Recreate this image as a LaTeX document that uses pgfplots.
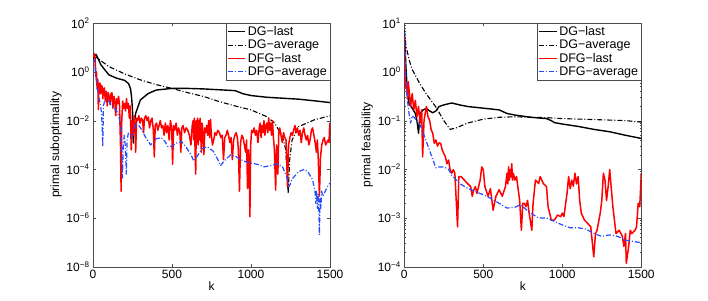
\documentclass[border=0pt]{standalone}
\usepackage{fontspec}
\setmainfont{Liberation Sans}
\usepackage{pgfplots}
\pgfplotsset{compat=1.18}
\definecolor{mblue}{rgb}{0.15,0.3,1}
\pgfplotsset{
  mystyle/.style={
    scale only axis, width=237pt, height=243.5pt,
    xmin=0, xmax=1500, xtick={0,500,1000,1500},
    tick align=inside,
    major tick length=3pt, minor tick length=1.8pt,
    axis line style={black!70}, tick style={black!70},
    every tick label/.append style={font=\fontsize{12}{14}\selectfont},
    label style={font=\fontsize{12}{14}\selectfont},
    /pgf/number format/assume math mode=true,
    /pgf/number format/set thousands separator={},
    xlabel={k},
    xlabel style={yshift=4pt},
    ylabel style={yshift=-2pt},
    legend style={at={(1,1)}, anchor=north east, draw=black!70,
      font=\fontsize{12.5}{13}\selectfont, inner sep=1pt, row sep=-1pt,
      cells={anchor=west}},
    legend cell align=left,
  },
  dglast/.style={black, line width=1.4pt, line join=round},
  dgavg/.style={black, line width=1.1pt, line join=round, dash pattern=on 5pt off 2pt on 1pt off 2pt},
  dfglast/.style={red, line width=1.5pt, line join=round},
  dfgavg/.style={mblue, line width=1.2pt, line join=round, dash pattern=on 5pt off 2pt on 1pt off 2pt},
}
\begin{document}
\begin{tikzpicture}
\useasboundingbox (0,0) rectangle (708pt,300pt);
% ---------------- left axis ----------------
\begin{axis}[ymode=log, mystyle, at={(93pt,33.3pt)}, anchor=south west,
  ymin=1e-8, ymax=1e2,
  ytick={1e-8,1e-6,1e-4,1e-2,1,1e2},
  yticklabels={10\textsuperscript{−8},10\textsuperscript{−6},10\textsuperscript{−4},10\textsuperscript{−2},10\textsuperscript{0},10\textsuperscript{2}},
  yminorticks=false,
  ylabel={primal suboptimality}]
\addplot[dglast] coordinates {
(0,4.0)(20,5.2)(50,1.95)(100,0.76)(150,0.55)(200,0.45)(225,0.33)(238,0.2)(245,0.079)(250,0.0275)(255,0.0012)(260,0.0063)(270,0.02)(300,0.071)(350,0.13)(400,0.18)(500,0.21)(600,0.21)(700,0.2)(900,0.17)(950,0.126)(1000,0.107)(1100,0.091)(1200,0.083)(1300,0.076)(1400,0.065)(1500,0.055)};
\addlegendentry{DG−last}
\addplot[dgavg] coordinates {
(0,3.6)(20,4.0)(100,1.66)(200,0.83)(300,0.47)(400,0.30)(500,0.21)(600,0.14)(700,0.098)(800,0.06)(900,0.04)(1000,0.0275)(1100,0.0145)(1150,0.0079)(1200,0.0022)(1220,0.00063)(1235,0.00001)(1245,0.00025)(1260,0.0016)(1300,0.0056)(1400,0.0107)(1500,0.0158)};
\addlegendentry{DG−average}
\addplot[dfglast] coordinates {
(0,4.0)(8,5.6)(14,3.2)(18,0.63)(22,1.0)(26,0.2)(30,0.5)(34,0.028)(38,0.32)(44,0.35)(48,0.126)(52,0.28)(58,0.25)(62,0.079)(66,0.2)(72,0.22)(78,0.063)(84,0.16)(90,0.04)(96,0.14)(102,0.1)(108,0.045)(114,0.126)(120,0.14)(126,0.032)(132,0.1)(138,0.063)(144,0.016)(150,0.079)(156,0.05)(162,0.1)(168,0.04)(174,1e-3)(178,1.26e-5)(182,0.01)(188,0.063)(194,0.032)(200,0.05)(206,0.025)(212,0.079)(218,0.032)(224,0.05)(230,0.0126)(236,0.04)(242,6.3e-4)(248,0.01)(254,2.5e-3)(260,0.016)(266,6.3e-3)(270,5e-4)(276,0.0126)(282,0.01)(290,0.016)(298,7.9e-3)(306,0.0126)(314,0.01)(320,3.2e-3)(326,0.0126)(334,0.016)(342,0.01)(350,0.014)(358,5e-3)(366,0.01)(374,0.0126)(382,4e-3)(388,3.2e-4)(394,6.3e-3)(402,7.9e-3)(410,4e-3)(418,6.3e-3)(426,0.01)(434,5e-3)(442,6.3e-3)(450,2.5e-3)(458,7.9e-3)(466,3.2e-3)(474,6.3e-3)(482,1.6e-3)(490,0.01)(498,5e-3)(504,1.6e-4)(510,6.3e-3)(518,4e-3)(526,7.9e-3)(534,2.5e-3)(542,5e-3)(550,3.2e-3)(556,5e-4)(562,5e-3)(570,6.3e-3)(580,3.2e-3)(590,5e-3)(600,4e-3)(610,2.5e-3)(620,1e-3)(628,6.3e-3)(634,0.01)(638,1.6e-3)(642,0.0126)(646,6.3e-4)(650,6.3e-5)(654,0.01)(658,1.26e-3)(662,0.0126)(666,1e-3)(670,0.01)(674,1.6e-3)(678,0.0126)(682,2.5e-3)(686,5e-4)(690,7.9e-3)(696,4e-3)(702,4e-4)(708,5e-3)(714,3.2e-3)(720,6.3e-3)(726,2.5e-3)(732,0.01)(738,2e-3)(744,0.0112)(748,3.2e-3)(756,1e-3)(764,1.6e-3)(772,3.2e-3)(780,2.5e-3)(790,4e-3)(800,3.2e-3)(810,2e-3)(818,2.5e-3)(826,2.5e-4)(834,2e-3)(842,2.5e-3)(850,4e-3)(858,2.5e-3)(866,1.26e-3)(874,2e-3)(882,2.5e-4)(890,1.6e-3)(898,2.5e-3)(906,3.2e-3)(914,2e-3)(920,6.3e-4)(927,1.26e-5)(934,1.26e-3)(942,2.5e-3)(950,2e-3)(958,1e-3)(966,5e-4)(972,1.6e-3)(978,1.6e-5)(984,6.3e-4)(988,2.5e-4)(993,1.12e-6)(998,1e-3)(1004,4e-3)(1012,3.2e-3)(1020,5e-3)(1028,2.5e-3)(1036,4e-3)(1044,1.26e-3)(1052,5e-3)(1058,7.9e-3)(1064,2e-3)(1070,6.3e-3)(1076,3.2e-3)(1082,0.01)(1088,2.5e-3)(1094,6.3e-3)(1100,7.9e-3)(1106,3.2e-3)(1112,0.0126)(1118,4e-3)(1124,7.9e-3)(1130,2.5e-3)(1136,0.01)(1142,2e-3)(1148,6.3e-4)(1156,1.4e-5)(1162,1e-3)(1170,6.3e-5)(1176,3.2e-3)(1182,5e-3)(1190,2.5e-3)(1198,1.26e-3)(1206,3.2e-3)(1214,2e-3)(1222,1.6e-3)(1231,2e-5)(1238,1e-3)(1246,2e-3)(1254,3.2e-3)(1262,2.5e-3)(1270,4e-3)(1278,6.3e-3)(1286,3.2e-3)(1294,5e-3)(1302,2.5e-3)(1310,4e-3)(1318,1.26e-3)(1326,3.2e-3)(1334,5e-3)(1342,2.5e-3)(1350,1.6e-3)(1358,2.5e-3)(1366,1e-3)(1374,1.6e-3)(1382,4e-3)(1390,5e-3)(1398,2.5e-3)(1406,1.26e-3)(1414,5e-4)(1420,1.6e-3)(1426,2.5e-4)(1433,7.9e-6)(1440,3.2e-4)(1448,1e-3)(1456,1.6e-3)(1464,2e-3)(1472,1e-3)(1480,1.26e-3)(1488,1.6e-3)(1494,1.26e-3)(1497,5e-3)(1500,7.9e-3)};
\addlegendentry{DFG−last}
\addplot[dfgavg] coordinates {
(0,2.8)(8,3.2)(14,1.26)(20,0.5)(28,0.2)(36,0.1)(46,0.05)(54,0.02)(58,5e-3)(62,8.5e-4)(66,0.04)(75,0.071)(90,0.071)(105,0.056)(120,0.04)(135,0.032)(150,0.025)(165,0.014)(176,5e-3)(182,6.3e-4)(186,4.3e-5)(192,1e-3)(198,2.5e-3)(204,1e-3)(211,6.3e-5)(216,1.6e-3)(224,3.2e-3)(235,2.8e-3)(245,2e-3)(255,4e-3)(270,7.9e-3)(290,6.3e-3)(310,4e-3)(330,2.2e-3)(350,1.4e-3)(365,1e-3)(380,1.26e-3)(400,1.8e-3)(430,2e-3)(455,1.4e-3)(475,8.5e-4)(500,8.9e-4)(530,1.2e-3)(560,1.4e-3)(590,7.9e-4)(620,4e-4)(638,2.2e-4)(660,3.5e-4)(690,7.1e-4)(723,8.5e-4)(760,5.6e-4)(790,2.5e-4)(807,1.4e-4)(830,2.2e-4)(871,3.9e-4)(900,3.5e-4)(935,2.5e-4)(970,2e-4)(1000,1.8e-4)(1040,1.6e-4)(1083,1.26e-4)(1120,1.4e-4)(1168,1.66e-4)(1200,1.26e-4)(1225,5e-5)(1242,1.95e-5)(1260,4e-5)(1300,7.9e-5)(1337,1e-4)(1360,7.9e-5)(1390,3.7e-5)(1405,1.26e-5)(1410,4e-6)(1415,1.26e-5)(1420,2.5e-6)(1425,1e-5)(1430,1.6e-6)(1433,2e-7)(1437,6.3e-6)(1442,2.5e-6)(1447,1.26e-5)(1455,7.9e-6)(1470,1.26e-5)(1485,2e-5)(1500,2.7e-5)};
\addlegendentry{DFG−average}
\end{axis}
% ---------------- right axis ----------------
\begin{axis}[ymode=log, mystyle, at={(404.3pt,33.3pt)}, anchor=south west,
  ymin=1e-4, ymax=10,
  ytick={1e-4,1e-3,1e-2,1e-1,1,10},
  yticklabels={10\textsuperscript{−4},10\textsuperscript{−3},10\textsuperscript{−2},10\textsuperscript{−1},10\textsuperscript{0},10\textsuperscript{1}},
  ylabel={primal feasibility}]
\addplot[dglast] coordinates {
(0,7.2)(5,3.2)(10,1.3)(20,0.36)(30,0.22)(40,0.2)(50,0.18)(60,0.158)(70,0.14)(80,0.1)(90,0.055)(100,0.14)(120,0.166)(140,0.178)(160,0.158)(180,0.145)(200,0.158)(220,0.195)(250,0.21)(300,0.23)(350,0.21)(400,0.195)(500,0.18)(600,0.166)(630,0.15)(650,0.14)(700,0.13)(800,0.117)(900,0.11)(930,0.1)(950,0.091)(1000,0.085)(1100,0.076)(1200,0.066)(1300,0.059)(1400,0.05)(1500,0.043)};
\addlegendentry{DG−last}
\addplot[dgavg] coordinates {
(0,7.1)(10,3.5)(20,2.5)(35,1.58)(50,1.12)(75,0.79)(100,0.56)(140,0.35)(200,0.19)(250,0.1)(290,0.066)(330,0.071)(400,0.089)(500,0.107)(600,0.117)(700,0.12)(800,0.117)(900,0.115)(1000,0.11)(1200,0.105)(1400,0.1)(1500,0.093)};
\addlegendentry{DG−average}
\addplot[dfglast] coordinates {
(0,5.4)(5,0.59)(10,0.46)(15,0.59)(20,0.28)(25,0.63)(30,0.43)(40,0.195)(50,0.36)(60,0.166)(70,0.26)(80,0.12)(90,0.195)(100,0.089)(110,0.166)(116,0.018)(125,0.102)(140,0.195)(150,0.12)(160,0.102)(170,0.065)(180,0.055)(190,0.034)(200,0.04)(210,0.03)(220,0.035)(230,0.034)(240,0.025)(250,0.021)(260,0.018)(270,0.013)(280,0.0155)(290,9.8e-3)(300,8.3e-3)(310,9.8e-3)(320,8.3e-3)(337,6.6e-4)(345,7.1e-3)(360,7.1e-3)(380,6e-3)(400,5.1e-3)(420,4.4e-3)(430,2.8e-3)(440,3.8e-3)(450,4.4e-3)(460,3.2e-3)(470,4.4e-3)(480,6e-3)(490,0.0112)(500,9.8e-3)(510,4.4e-3)(530,2.8e-3)(545,4e-3)(562,1.45e-3)(580,2.8e-3)(600,3.8e-3)(620,2.8e-3)(640,4.4e-3)(650,8.3e-3)(655,5e-3)(660,0.0112)(665,6e-3)(670,9.8e-3)(675,7e-3)(680,0.013)(685,6e-3)(690,8.3e-3)(700,6e-3)(710,7.1e-3)(730,2.3e-3)(741,5.6e-4)(750,2e-3)(760,2e-3)(770,1.7e-3)(780,2.3e-3)(790,1.26e-3)(807,5.6e-4)(815,2e-3)(830,6e-3)(850,5.1e-3)(860,7.1e-3)(880,5.1e-3)(900,4.4e-3)(910,1.7e-3)(920,1.26e-3)(930,9.1e-4)(950,9.1e-4)(970,1.15e-3)(990,1.07e-3)(1000,1.26e-3)(1010,1.07e-3)(1030,3.2e-3)(1040,7.1e-3)(1050,4e-3)(1060,6e-3)(1070,4.5e-3)(1080,8.3e-3)(1090,5e-3)(1100,7.1e-3)(1110,2.3e-3)(1120,1.26e-3)(1140,9.1e-4)(1160,7.8e-4)(1180,6.6e-4)(1199,1.6e-4)(1210,4.8e-4)(1220,5.6e-4)(1240,1.26e-3)(1250,2.3e-3)(1260,8.3e-3)(1270,6e-3)(1280,2.3e-3)(1290,4.4e-3)(1300,9.8e-3)(1320,1.7e-3)(1340,4.8e-4)(1360,5.6e-4)(1380,4.2e-4)(1390,2.6e-4)(1400,4.8e-4)(1405,1.17e-4)(1420,2.6e-4)(1430,5.6e-4)(1440,4.8e-4)(1460,5.6e-4)(1470,6.6e-4)(1480,2e-3)(1490,1.7e-3)(1500,8.3e-3)};
\addlegendentry{DFG−last}
\addplot[dfgavg] coordinates {
(0,6.8)(5,2.5)(10,0.79)(20,0.26)(30,0.14)(40,0.089)(50,0.126)(70,0.11)(100,0.081)(120,0.055)(150,0.03)(180,0.016)(200,0.0107)(220,0.0112)(250,0.0112)(280,0.01)(300,7.6e-3)(350,5.1e-3)(400,4.1e-3)(450,3.5e-3)(500,3e-3)(550,2.5e-3)(600,2e-3)(650,1.6e-3)(700,1.66e-3)(730,1.86e-3)(750,1.7e-3)(800,1.26e-3)(850,1e-3)(900,1e-3)(950,8.5e-4)(1000,7.2e-4)(1050,6.3e-4)(1100,6.3e-4)(1150,5.9e-4)(1200,4.8e-4)(1250,4.2e-4)(1300,4.5e-4)(1350,4.2e-4)(1400,3.5e-4)(1450,3.3e-4)(1500,3.1e-4)};
\addlegendentry{DFG−average}
\end{axis}
\end{tikzpicture}
\end{document}
